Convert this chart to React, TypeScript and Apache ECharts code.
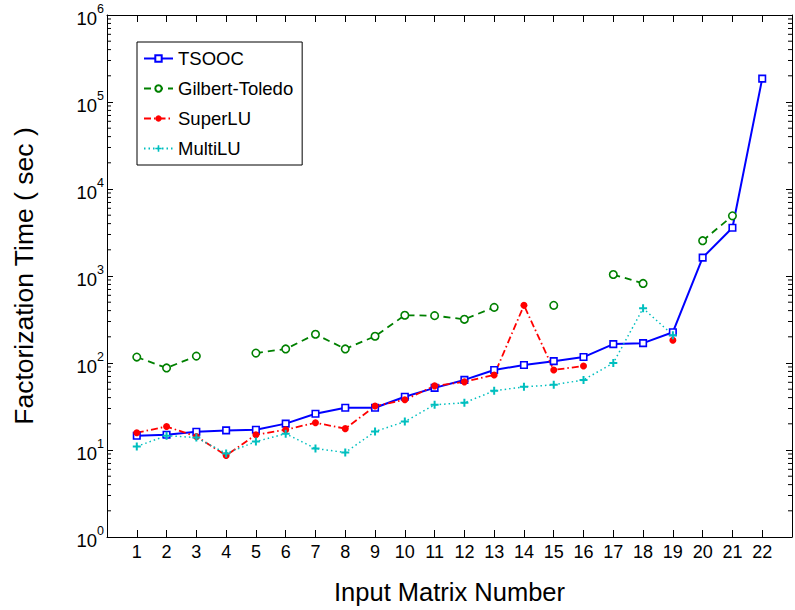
import React, { useEffect, useRef } from "react";
import * as echarts from "echarts";

const categories = [1, 2, 3, 4, 5, 6, 7, 8, 9, 10, 11, 12, 13, 14, 15, 16, 17, 18, 19, 20, 21, 22];
const tsooc = [14.6, 15.0, 16.2, 16.8, 17.1, 20.1, 26.1, 30.6, 30.6, 40.9, 51.8, 63.9, 83.2, 94.9, 105, 117, 165, 169, 226, 1626, 3584, 185600];
const gilbertToledo = [117, 87.7, 120, null, 130, 145, 214, 145, 203, 354, 350, 318, 436, null, 460, null, 1040, 821, null, 2545, 4914, null];
const superLU = [15.8, 18.6, 14.3, 8.65, 15.0, 17.1, 20.6, 17.6, 32, 37.8, 54.6, 60.7, 72.9, 460, 83.2, 92.4, null, null, 183, null, null, null];
const multiLU = [11, 14.6, 13.9, 9.12, 12.5, 15.4, 10.4, 9.36, 16.3, 21.2, 33.1, 34.9, 47.9, 53.2, 56.1, 63.9, 100, 425, 209, null, null, null];
const decadeExponents = [0, 1, 2, 3, 4, 5];
const minorMultipliers = [2, 3, 4, 5, 6, 7, 8, 9];

const FONT = "'Liberation Sans', Arial, Helvetica, sans-serif";

function toPairs(vals: (number | null)[]) {
  return categories.map((c, i) => [c, vals[i] == null ? "-" : vals[i]]);
}

export default function App() {
  const ref = useRef<HTMLDivElement>(null);
  useEffect(() => {
    if (!ref.current) return;
    const chart = echarts.init(ref.current, undefined, { renderer: "svg" });
    const minorVals: number[][] = [];
    decadeExponents.forEach((e) =>
      minorMultipliers.forEach((m) => minorVals.push([0, m * Math.pow(10, e)]))
    );
    const option: any = {
      animation: false,
      backgroundColor: "#fff",
      textStyle: { fontFamily: FONT },
      grid: { left: 107, top: 15, width: 693, height: 525 },
      legend: {
        orient: "vertical",
        left: 137,
        top: 42,
        padding: [7, 9, 7, 6],
        itemGap: 11,
        itemWidth: 29,
        itemHeight: 8,
        backgroundColor: "#fff",
        borderColor: "#000",
        borderWidth: 1,
        data: ["TSOOC", "Gilbert-Toledo", "SuperLU", "MultiLU"],
        textStyle: { fontSize: 18.5, color: "#000", fontFamily: FONT },
      },
      xAxis: [
        {
          type: "value",
          min: 0,
          max: 23,
          interval: 1,
          name: "Input Matrix Number",
          nameLocation: "middle",
          nameGap: 42,
          nameTextStyle: { fontSize: 25.5, color: "#000", fontFamily: FONT },
          axisLine: { show: true, onZero: false, lineStyle: { color: "#000", width: 1 } },
          axisTick: { show: true, inside: true, length: 7, lineStyle: { color: "#000" } },
          axisLabel: {
            fontSize: 18,
            color: "#000",
            margin: 6,
            formatter: (v: number) => (v >= 1 && v <= 22 ? String(v) : ""),
          },
          splitLine: { show: false },
        },
        {
          type: "value",
          position: "top",
          min: 0,
          max: 23,
          interval: 1,
          axisLine: { show: true, onZero: false, lineStyle: { color: "#000", width: 1 } },
          axisTick: { show: true, inside: true, length: 7, lineStyle: { color: "#000" } },
          axisLabel: { show: false },
          splitLine: { show: false },
        },
      ],
      yAxis: [
        {
          type: "log",
          logBase: 10,
          min: 1,
          max: 1e6,
          splitNumber: 6,
          name: "Factorization Time ( sec )",
          nameLocation: "middle",
          nameGap: 70,
          nameTextStyle: { fontSize: 26.5, color: "#000", fontFamily: FONT },
          axisLine: { show: true, onZero: false, lineStyle: { color: "#000", width: 1 } },
          axisTick: { show: true, inside: true, length: 6, lineStyle: { color: "#000" } },
          axisLabel: {
            margin: 3,
            color: "#000",
            formatter: (v: number) => `{b|10}{s|${Math.round(Math.log10(v))}}`,
            rich: {
              b: { fontSize: 18.5, lineHeight: 26, verticalAlign: "bottom", color: "#000", fontFamily: FONT },
              s: { fontSize: 12.5, lineHeight: 12, verticalAlign: "top", color: "#000", fontFamily: FONT },
            },
          },
          splitLine: { show: false },
        },
        {
          type: "log",
          logBase: 10,
          min: 1,
          max: 1e6,
          splitNumber: 6,
          position: "right",
          axisLine: { show: true, onZero: false, lineStyle: { color: "#000", width: 1 } },
          axisTick: { show: true, inside: true, length: 6, lineStyle: { color: "#000" } },
          axisLabel: { show: false },
          splitLine: { show: false },
        },
      ],
      series: [
        {
          name: "minorTicks",
          type: "custom",
          silent: true,
          xAxisIndex: 0,
          yAxisIndex: 0,
          clip: false,
          data: minorVals,
          renderItem: (params: any, api: any) => {
            const y = api.coord([0, api.value(1)])[1];
            const cs = params.coordSys;
            return {
              type: "group",
              children: [
                { type: "line", shape: { x1: cs.x, y1: y, x2: cs.x + 4, y2: y }, style: { stroke: "#000", lineWidth: 1 } },
                { type: "line", shape: { x1: cs.x + cs.width - 4, y1: y, x2: cs.x + cs.width, y2: y }, style: { stroke: "#000", lineWidth: 1 } },
              ],
            };
          },
        },
        {
          name: "TSOOC",
          type: "line",
          data: toPairs(tsooc),
          symbol: "rect",
          symbolSize: 6.5,
          lineStyle: { color: "#0000ff", width: 2, type: "solid" },
          itemStyle: { color: "#ffffff", borderColor: "#0000ff", borderWidth: 1.6 },
        },
        {
          name: "Gilbert-Toledo",
          type: "line",
          data: toPairs(gilbertToledo),
          symbol: "circle",
          symbolSize: 7.5,
          lineStyle: { color: "#008000", width: 1.8, type: [7, 5] },
          itemStyle: { color: "#ffffff", borderColor: "#008000", borderWidth: 1.6 },
        },
        {
          name: "SuperLU",
          type: "line",
          data: toPairs(superLU),
          symbol: "circle",
          symbolSize: 7,
          lineStyle: { color: "#ff0000", width: 1.8, type: [7, 3, 1.5, 3] },
          itemStyle: { color: "#ff0000", borderColor: "#ff0000", borderWidth: 0 },
        },
        {
          name: "MultiLU",
          type: "line",
          data: toPairs(multiLU),
          symbol: "path://M-1,-4H1V-1H4V1H1V4H-1V1H-4V-1H-1Z",
          symbolSize: 8,
          lineStyle: { color: "#00bfbf", width: 1.5, type: [1.5, 3] },
          itemStyle: { color: "#00bfbf", borderWidth: 0 },
        },
      ],
    };
    chart.setOption(option);
    return () => chart.dispose();
  }, []);
  return (
    <div style={{ position: "absolute", left: 0, top: 0, width: 795, height: 610, background: "#fff" }}>
      <div ref={ref} style={{ width: 795, height: 610 }} />
    </div>
  );
}
